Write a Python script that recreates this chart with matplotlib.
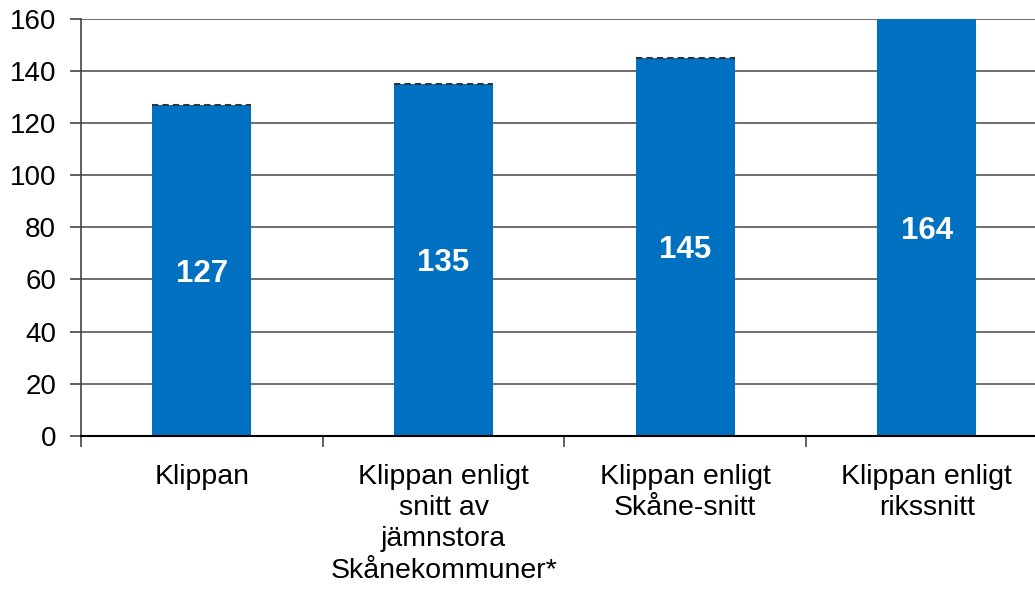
import matplotlib.pyplot as plt
import numpy as np

categories = ["Klippan", "Klippan enligt\nsnitt av\njämnstora\nSkånekommuner*",
              "Klippan enligt\nSkåne-snitt", "Klippan enligt\nrikssnitt"]
values = [127, 135, 145, 164]

plt.rcParams["font.family"] = ["Liberation Sans", "DejaVu Sans"]

fig = plt.figure(figsize=(10.35, 5.89), dpi=100)
ax = fig.add_axes([0.0783, 0.26, 0.934, 0.708])

x = np.arange(len(categories))
ax.bar(x, values, width=0.41, color="#0070C0", zorder=3)
# dashed cap on top of each bar
ax.hlines(values, x - 0.205, x + 0.205, colors="#333333", linestyles=(0, (3, 2)),
          linewidth=1.5, zorder=4)

ymax = 160
for xi, v in zip(x, values):
    ax.text(xi, min(v, ymax) / 2, str(v), ha="center", va="center_baseline",
            color="white", fontsize=22.5, fontweight="bold", zorder=5)

ax.set_xlim(-0.5, len(categories) - 0.5)
ax.set_ylim(0, ymax)
ax.set_yticks(range(0, 161, 20))
ax.tick_params(axis="y", labelsize=20, length=8, width=1.2, color="#444444", pad=10)
ax.grid(axis="y", color="#555555", linewidth=1.2, zorder=0)

ax.set_xticks(x)
ax.set_xticklabels(categories, fontsize=20.5, linespacing=1.27)
ax.tick_params(axis="x", which="major", length=0, pad=20)
ax.set_xticks(np.arange(-0.5, len(categories), 1), minor=True)
ax.tick_params(axis="x", which="minor", length=8, width=1.2, color="#444444")

for s in ["top", "right"]:
    ax.spines[s].set_visible(False)
ax.spines["left"].set_color("#444444")
ax.spines["left"].set_linewidth(1.2)
ax.spines["bottom"].set_color("black")
ax.spines["bottom"].set_linewidth(1.5)
ax.spines["bottom"].set_zorder(6)

fig.savefig("out.png", dpi=100)
